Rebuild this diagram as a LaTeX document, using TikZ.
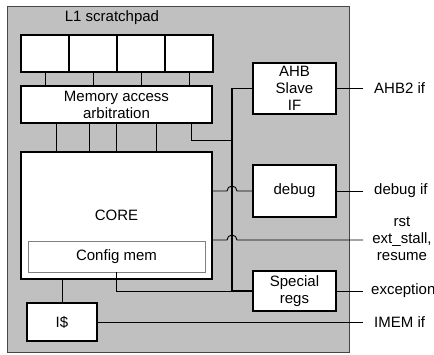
\documentclass[tikz,border=0pt]{standalone}
\usepackage{fontspec}
\setmainfont{Liberation Sans}
\usetikzlibrary{positioning}
\pgfdeclarelayer{background layer}
\pgfsetlayers{background layer,main}
\definecolor{panelgrey}{RGB}{192,192,192}
\definecolor{edgegrey}{RGB}{70,70,70}
\begin{document}
\begin{tikzpicture}[x=1pt,y=-1pt,font=\fontsize{15}{17}\selectfont]
\tikzstyle{block}=[draw=black,line width=1.6pt,fill=white,inner sep=0pt,align=center]
\tikzstyle{thinblock}=[draw=gray,line width=0.8pt,fill=white,inner sep=0pt]
\tikzstyle{wire}=[line width=0.9pt]
\tikzstyle{bus}=[line width=1.4pt]
\tikzstyle{iflabel}=[anchor=west,inner xsep=11pt,inner ysep=0pt]
\useasboundingbox (0,0) rectangle (434,354);
\node at (112,18) (title) {L1 scratchpad};
\foreach \i/\x in {1/45,2/93,3/141,4/189}
  \node [block,minimum width=48,minimum height=37] at (\x,53.5) (m\i) {};
\node [block,minimum width=191,minimum height=37] at (116.5,104.5) (arb) {Memory access\\arbitration};
\node [block,minimum width=191,minimum height=127] at (116.5,215.5) (core) {CORE};
\node [thinblock,minimum width=177,minimum height=31] at (116.5,256.5) (cfg) {Config mem};
\node [block,minimum width=70,minimum height=38] at (62,322) (ic) {I\$};
\node [block,minimum width=83,minimum height=51] at (294.5,88.5) (ahb) {AHB\\Slave\\IF};
\node [block,minimum width=83,minimum height=52] at (294.5,191) (dbg) {debug};
\node [block,minimum width=83,minimum height=40] at (294.5,291) (spr) {Special\\regs};
\node [iflabel] at (363,88.5) (ahbif) {AHB2 if};
\node [iflabel] at (363,191) (dbgif) {debug if};
\node [iflabel,inner xsep=8pt] at (363,291) (excif) {exception};
\node [iflabel] at (363,322) (imemif) {IMEM if};
\node [align=center] at (402,239) (rst) {rst\\ext\_stall,\\resume};
\coordinate (bt) at (232,88.5);
\coordinate (bj) at (232,140);
\coordinate (h1) at (227,191);
\coordinate (h2) at (227,240);
\coordinate (rstend) at (363,240);
\foreach \i in {1,...,4}
  \draw [wire] (m\i.south) -- (m\i.south |- arb.north);
\foreach \dx in {36,69,96,136}
  \draw [wire] ([xshift=\dx pt]arb.south west) -- ([xshift=\dx pt]core.north west);
\draw [wire] ([xshift=171pt]arb.south west) |- (bj);
\draw [bus] (ahb.west) -- (bt) -- (bt |- spr.west) -- (spr.west);
\draw [wire] (cfg.south) |- (spr.west);
\draw [wire] (core.east |- h1) -- (h1) arc [start angle=180,end angle=360,radius=5] -- (dbg.west);
\draw [wire] (core.east |- h2) -- (h2) arc [start angle=180,end angle=360,radius=5] -- (rstend);
\draw [wire] (core.south -| ic.north) -- (ic.north);
\draw [wire] (ahb.east) -- (ahbif.west);
\draw [wire] (dbg.east) -- (dbgif.west);
\draw [wire] (spr.east) -- (excif.west);
\draw [wire] (ic.east) -- (imemif.west);
\begin{pgfonlayer}{background layer}
\filldraw [fill=panelgrey,draw=edgegrey,line width=0.8pt] (7,6) rectangle (349,352);
\end{pgfonlayer}
\end{tikzpicture}
\end{document}
